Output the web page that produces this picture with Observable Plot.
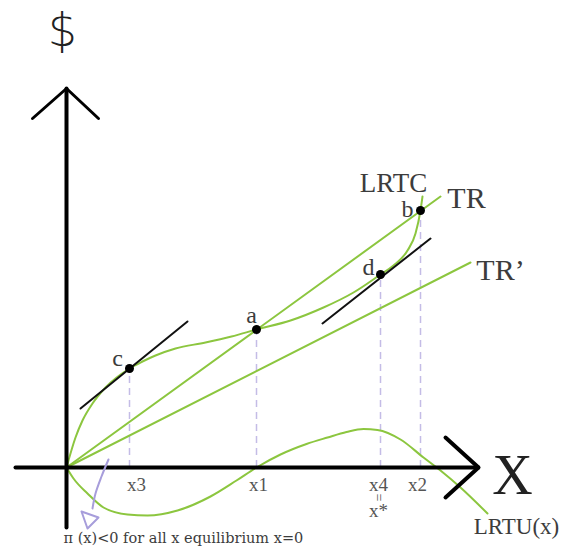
<!DOCTYPE html>
<html>
<head>
<meta charset="utf-8">
<script src="https://cdn.jsdelivr.net/npm/d3@7"></script>
<script src="https://cdn.jsdelivr.net/npm/@observablehq/plot@0.6"></script>
<style>
  html, body { margin: 0; padding: 0; background: #fff; }
  #chart svg { display: block; }
</style>
</head>
<body>
<div id="chart"></div>
<script>
// Long-run total cost (LRTC), two revenue rays (TR, TR') and long-run profit LRTU(x) = TR - LRTC
const lrtcX = [0, 0.9, 1.6, 2.6, 3.9, 6.3, 7.6, 8.9, 10.9, 13.9, 16.5, 19.0, 22.4, 25.7, 28.7, 31.4, 32.7, 34.1, 34.9, 35.4, 35.6];
const lrtcY = [0, 3.0, 4.7, 6.4, 8.0, 9.9, 10.6, 11.2, 11.9, 12.5, 13.1, 13.8, 14.7, 16.0, 17.5, 19.3, 20.2, 21.7, 23.4, 25.7, 27.1];

const lrtuX = [0, 0.7, 2.1, 3.7, 6.1, 8.1, 11.1, 14.4, 17.0, 19.0, 21.4, 24.0, 26.1, 28.0, 29.7, 31.1, 33.4, 35.7, 37.4, 39.4, 42.1];
const lrtuY = [0, -1.1, -2.6, -4.0, -4.7, -4.8, -4.3, -2.9, -1.3, 0, 1.3, 2.35, 3.0, 3.55, 3.85, 3.75, 2.8, 1.0, -0.3, -2.0, -4.6];

const trX = [0, 37.4];
const trY = [0, 27.1];
const tr2X = [0, 40.4];
const tr2Y = [0, 20.5];

// Named points on LRTC: c, a, d, b
const pointNames = ["c", "a", "d", "b"];
const pointX = [6.3, 19.0, 31.4, 35.4];
const pointY = [9.9, 13.8, 19.3, 25.7];
const pointLabelX = [5.1, 18.5, 30.2, 34.1];
const pointLabelY = [10.9, 15.2, 20.0, 25.8];

// Tangent segments at c and d
const tangentC = {x: [1.4, 12.1], y: [5.9, 14.6]};
const tangentD = {x: [25.6, 36.4], y: [14.4, 22.9]};

// Quantity labels under the axis
const tickNames = ["x3", "x1", "x4", "x2"];
const tickX = [7.0, 19.2, 31.2, 35.1];

// Axes with arrowheads
const xAxisX = [-5.1, 41.2];
const yAxisY = [-6.0, 37.9];
const xHeadX = [37.9, 41.2, 37.9];
const xHeadY = [3.0, 0, -3.0];
const yHeadX = [-3.4, 0, 3.2];
const yHeadY = [34.9, 37.9, 34.9];

// Pointer to the loss region
const pointerX = [4.2, 3.5, 2.9, 2.6];
const pointerY = [0.8, -0.9, -2.6, -4.1];
const pointerHeadX = [1.5, 3.2, 2.1, 1.5];
const pointerHeadY = [-4.4, -5.0, -6.1, -4.4];

const zip = (xs, ys) => xs.map((x, i) => ({x, y: ys[i]}));

const green = "#8cc63f";
const dash = "#c4bce6";
const purple = "#a79ddb";
const ink = "#3c3c3c";
const serif = "Liberation Serif, Times New Roman, serif";

const chart = Plot.plot({
  width: 566,
  height: 551,
  margin: 0,
  x: {domain: [-6.6, 50.0], axis: null},
  y: {domain: [-8.4, 46.7], axis: null},
  marks: [
    // dashed drop lines from the points of interest
    Plot.ruleX(pointNames.map((n, i) => ({x: pointX[i], y: pointY[i]})), {
      x: "x", y1: 0, y2: "y", stroke: dash, strokeWidth: 1.5, strokeDasharray: "7,5"
    }),
    // revenue rays
    Plot.line(zip(trX, trY), {x: "x", y: "y", stroke: green, strokeWidth: 2}),
    Plot.line(zip(tr2X, tr2Y), {x: "x", y: "y", stroke: green, strokeWidth: 2}),
    // cost and profit curves
    Plot.line(zip(lrtcX, lrtcY), {x: "x", y: "y", stroke: green, strokeWidth: 2, curve: "monotone-x"}),
    Plot.line(zip(lrtuX, lrtuY), {x: "x", y: "y", stroke: green, strokeWidth: 2, curve: "monotone-x"}),
    // tangents
    Plot.line(zip(tangentC.x, tangentC.y), {x: "x", y: "y", stroke: "#111", strokeWidth: 2}),
    Plot.line(zip(tangentD.x, tangentD.y), {x: "x", y: "y", stroke: "#111", strokeWidth: 2}),
    // axes
    Plot.line(zip(xAxisX, [0, 0]), {x: "x", y: "y", stroke: "#000", strokeWidth: 4}),
    Plot.line(zip([0, 0], yAxisY), {x: "x", y: "y", stroke: "#000", strokeWidth: 4}),
    Plot.line(zip(xHeadX, xHeadY), {x: "x", y: "y", stroke: "#000", strokeWidth: 4, strokeLinejoin: "miter"}),
    Plot.line(zip(yHeadX, yHeadY), {x: "x", y: "y", stroke: "#000", strokeWidth: 3, strokeLinejoin: "miter"}),
    // points
    Plot.dot(pointNames.map((n, i) => ({x: pointX[i], y: pointY[i]})), {
      x: "x", y: "y", r: 4.5, fill: "#000"
    }),
    Plot.text(pointNames.map((n, i) => ({x: pointLabelX[i], y: pointLabelY[i], n})), {
      x: "x", y: "y", text: "n", fontSize: 24, fontFamily: serif, fill: ink
    }),
    // pointer
    Plot.line(zip(pointerX, pointerY), {x: "x", y: "y", stroke: purple, strokeWidth: 2, curve: "catmull-rom"}),
    Plot.line(zip(pointerHeadX, pointerHeadY), {x: "x", y: "y", stroke: purple, strokeWidth: 2, fill: "white"}),
    // quantity labels
    Plot.text(tickNames.map((t, i) => ({x: tickX[i], t})), {
      x: "x", y: -1.7, text: "t", fontSize: 19, fontFamily: serif, fill: "#555"
    }),
    Plot.text(["="], {x: 31.2, y: -3.0, text: d => d, rotate: 90, fontSize: 14, fontFamily: serif, fill: "#555"}),
    Plot.text(["x*"], {x: 31.2, y: -4.3, text: d => d, fontSize: 19, fontFamily: serif, fill: "#555"}),
    // curve names and axis titles
    Plot.text(["$"], {x: -0.4, y: 43.6, text: d => d, fontSize: 46, fontWeight: 200, fontFamily: "DejaVu Sans, sans-serif", fill: "#222"}),
    Plot.text(["X"], {x: 44.6, y: -0.9, text: d => d, fontSize: 56, fontFamily: serif, fill: "#222"}),
    Plot.text(["TR"], {x: 40.0, y: 26.9, text: d => d, fontSize: 30, fontFamily: serif, fill: ink}),
    Plot.text(["TR’"], {x: 43.4, y: 19.7, text: d => d, fontSize: 30, fontFamily: serif, fill: ink}),
    Plot.text(["LRTC"], {x: 32.7, y: 28.4, text: d => d, fontSize: 27, fontFamily: serif, fill: ink}),
    Plot.text(["LRTU(x)"], {x: 45.0, y: -5.9, text: d => d, fontSize: 23, fontFamily: serif, fill: ink}),
    Plot.text(["π (x)<0 for all x equilibrium x=0"], {
      x: -0.3, y: -7.1, text: d => d, textAnchor: "start", fontSize: 14.5, fontFamily: "DejaVu Serif, serif", fill: ink
    })
  ]
});

document.getElementById("chart").appendChild(chart);
</script>
</body>
</html>
